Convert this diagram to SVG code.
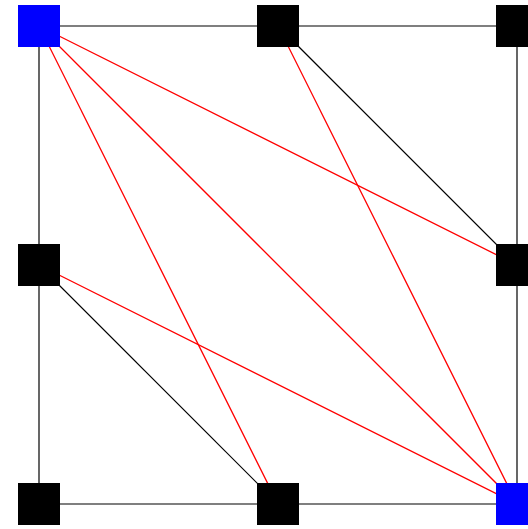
<svg xmlns="http://www.w3.org/2000/svg" width="528" height="529" viewBox="0 0 528 529">
<style>
.e{stroke:#000;stroke-width:1.2;fill:none}
.r{stroke:#f00;stroke-width:1.3;fill:none}
.n{fill:#000}
.b{fill:#00f}
</style>
<rect width="528" height="529" fill="#fff"/>
<g id="connectors">
<line class="e" x1="39" y1="26" x2="517" y2="26"/>
<line class="e" x1="39" y1="504" x2="517" y2="504"/>
<line class="e" x1="39" y1="26" x2="39" y2="504"/>
<line class="e" x1="517" y1="26" x2="517" y2="504"/>
<line class="e" x1="278" y1="26" x2="517" y2="265"/>
<line class="e" x1="39" y1="265" x2="278" y2="504"/>
<line class="r" x1="39" y1="26" x2="517" y2="265"/>
<line class="r" x1="39" y1="26" x2="278" y2="504"/>
<line class="r" x1="39" y1="26" x2="517" y2="504" stroke-width="1.8"/>
<line class="r" x1="278" y1="26" x2="517" y2="504"/>
<line class="r" x1="39" y1="265" x2="517" y2="504"/>
</g>
<g id="n1"><rect class="b" x="18" y="5" width="42" height="42"/></g>
<g id="n2"><rect class="n" x="257" y="5" width="42" height="42"/></g>
<g id="n3"><rect class="n" x="496" y="5" width="42" height="42"/></g>
<g id="n4"><rect class="n" x="18" y="244" width="42" height="42"/></g>
<g id="n5"><rect class="n" x="496" y="244" width="42" height="42"/></g>
<g id="n6"><rect class="n" x="18" y="483" width="42" height="42"/></g>
<g id="n7"><rect class="n" x="257" y="483" width="42" height="42"/></g>
<g id="n8"><rect class="b" x="496" y="483" width="42" height="42"/></g>
</svg>
